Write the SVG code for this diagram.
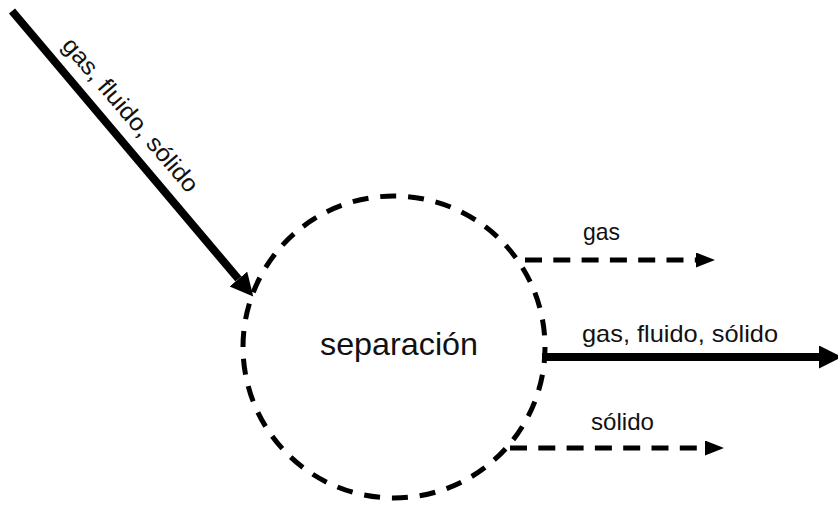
<svg xmlns="http://www.w3.org/2000/svg" width="838" height="505" viewBox="0 0 838 505">
  <style>
    .lbl { font-family: "Liberation Sans", Arial, sans-serif; font-size: 24px; fill: #111; }
    .big { font-family: "Liberation Sans", Arial, sans-serif; font-size: 32px; fill: #111; }
    .thick { stroke: #000; stroke-width: 8; fill: none; }
    .dash { stroke: #000; stroke-width: 4.8; fill: none; stroke-dasharray: 17 11.3; }
  </style>
  <defs>
    <marker id="bigHead" markerUnits="userSpaceOnUse" markerWidth="24" markerHeight="24" refX="0" refY="11.5" orient="auto" viewBox="0 0 24 24">
      <path d="M0,0 L23,11.5 L0,23 Z" fill="#000"/>
    </marker>
    <marker id="smallHead" markerUnits="userSpaceOnUse" markerWidth="21" markerHeight="16" refX="0" refY="7.5" orient="auto" viewBox="0 0 21 16">
      <path d="M0,0 L19,7.5 L0,15 Z" fill="#000"/>
    </marker>
  </defs>

  <g id="separacion">
    <circle cx="394" cy="347" r="151" fill="none" stroke="#000" stroke-width="5" stroke-dasharray="16 11.9"/>
    <text class="big" x="320" y="355" textLength="158" lengthAdjust="spacingAndGlyphs">separación</text>
  </g>

  <g id="connectors">
    <line class="thick" x1="12" y1="11" x2="238.4" y2="279" marker-end="url(#bigHead)"/>
    <line class="thick" x1="542" y1="357" x2="819" y2="357" marker-end="url(#bigHead)"/>
    <line class="dash" x1="525" y1="260" x2="696" y2="260" marker-end="url(#smallHead)"/>
    <line class="dash" x1="510" y1="448" x2="705" y2="448" marker-end="url(#smallHead)"/>
  </g>

  <g id="labels">
    <text class="lbl" transform="translate(61,46) rotate(49.4)" x="0" y="0" textLength="195" lengthAdjust="spacingAndGlyphs">gas, fluido, sólido</text>
    <text class="lbl" x="583" y="240" textLength="37" lengthAdjust="spacingAndGlyphs">gas</text>
    <text class="lbl" x="582" y="342" textLength="196" lengthAdjust="spacingAndGlyphs">gas, fluido, sólido</text>
    <text class="lbl" x="591" y="430" textLength="63" lengthAdjust="spacingAndGlyphs">sólido</text>
  </g>
</svg>
